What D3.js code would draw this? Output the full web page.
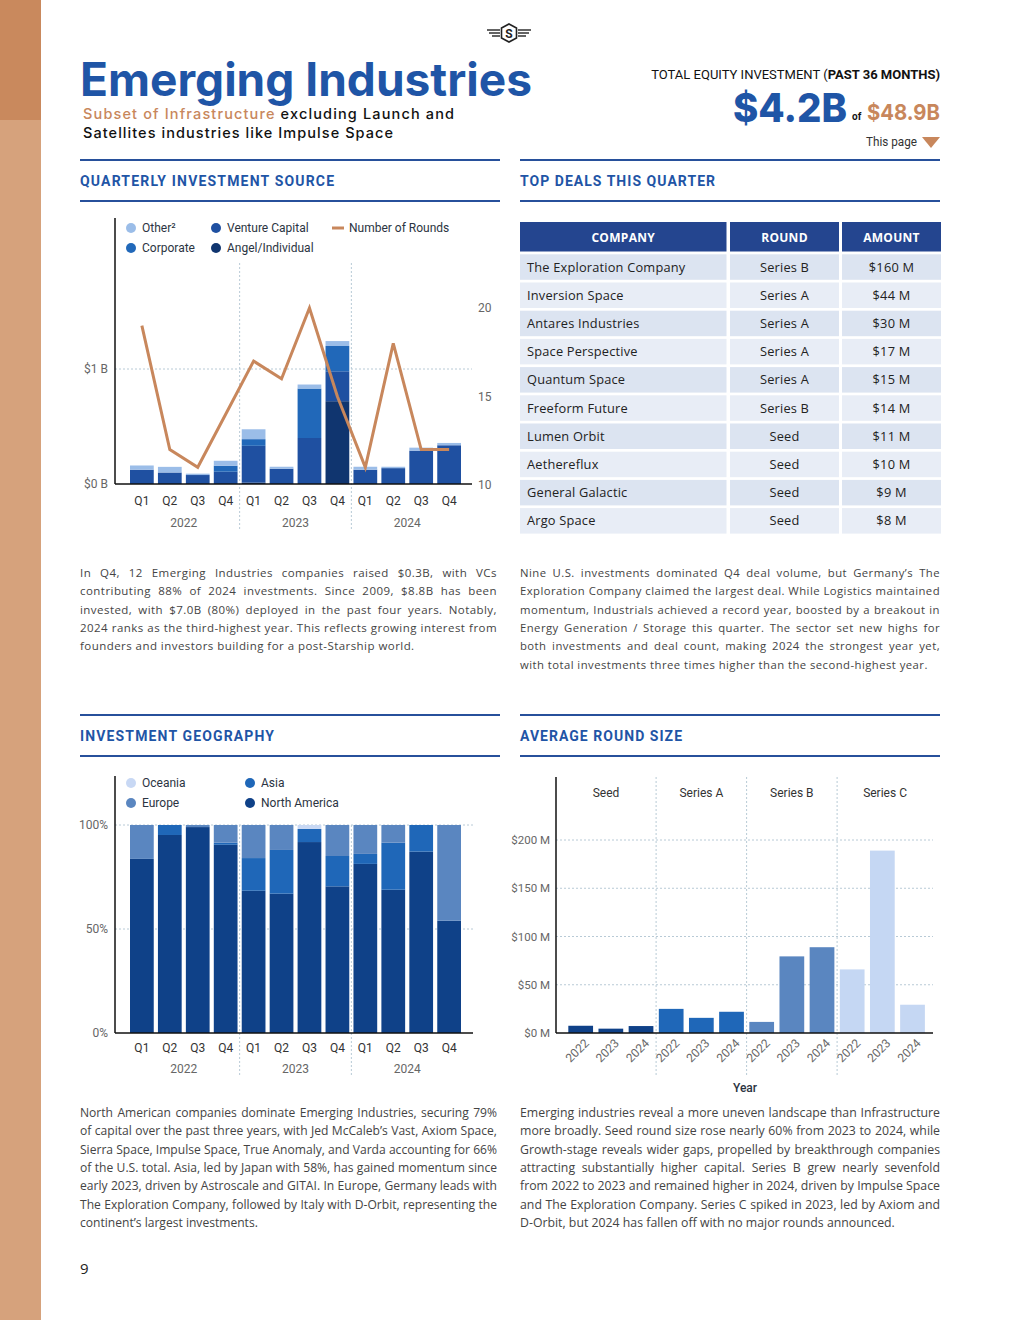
<!DOCTYPE html>
<html>
<head>
<meta charset="utf-8">
<script src="https://cdn.jsdelivr.net/npm/d3@7"></script>
<style>
body { margin: 0; background: #fff; }
svg { display: block; }
</style>
</head>
<body>
<div id="page"></div>
<script>
// ---- data ----
var quarters = ["Q1", "Q2", "Q3", "Q4", "Q1", "Q2", "Q3", "Q4", "Q1", "Q2", "Q3", "Q4"];
var years = ["2022", "2023", "2024"];

// quarterly investment source, $B
var angelInv   = [0, 0, 0, 0, 0.012, 0, 0, 0.72, 0, 0, 0, 0];
var ventureInv = [0.124, 0.10, 0.078, 0.107, 0.32, 0.133, 0.40, 0.26, 0.124, 0.138, 0.29, 0.337];
var corpInv    = [0, 0, 0, 0.052, 0.058, 0, 0.43, 0.22, 0, 0, 0, 0];
var otherInv   = [0.037, 0.049, 0.012, 0.043, 0.086, 0.017, 0.035, 0.043, 0.026, 0.012, 0.026, 0.02];
var roundCount = [19, 12, 11, 14, 17, 16, 20, 15, 11, 18, 12, 12];

// investment geography, % of quarter
var northAmerica = [83.7, 95.2, 99, 90.5, 68.4, 67, 91.8, 70.5, 81.3, 68.9, 87.2, 54];
var asiaShare    = [0, 4.8, 0, 1, 15.7, 21, 6.3, 14.6, 4.8, 22.6, 12.8, 0];
var europeShare  = [16.3, 0, 1, 8.5, 15.9, 12, 0, 14.9, 13.9, 8.5, 0, 46];
var oceaniaShare = [0, 0, 0, 0, 0, 0, 1.9, 0, 0, 0, 0, 0];

// average round size, $M
var roundTypes = ["Seed", "Series A", "Series B", "Series C"];
var roundYears = ["2022", "2023", "2024"];
var seedAvg    = [7.5, 4.5, 7.2];
var seriesAAvg = [25, 15.7, 22];
var seriesBAvg = [11.5, 79.4, 88.9];
var seriesCAvg = [65.9, 189, 29.3];

// top deals
var dealCompanies = ["The Exploration Company", "Inversion Space", "Antares Industries", "Space Perspective",
    "Quantum Space", "Freeform Future", "Lumen Orbit", "Aethereflux", "General Galactic", "Argo Space"];
var dealRounds = ["Series B", "Series A", "Series A", "Series A", "Series A", "Series B", "Seed", "Seed", "Seed", "Seed"];
var dealAmounts = ["$160 M", "$44 M", "$30 M", "$17 M", "$15 M", "$14 M", "$11 M", "$10 M", "$9 M", "$8 M"];

var para1 = [
    "In Q4, 12 Emerging Industries companies raised $0.3B, with VCs",
    "contributing 88% of 2024 investments. Since 2009, $8.8B has been",
    "invested, with $7.0B (80%) deployed in the past four years. Notably,",
    "2024 ranks as the third-highest year. This reflects growing interest from",
    "founders and investors building for a post-Starship world."];
var para2 = [
    "Nine U.S. investments dominated Q4 deal volume, but Germany’s The",
    "Exploration Company claimed the largest deal. While Logistics maintained",
    "momentum, Industrials achieved a record year, boosted by a breakout in",
    "Energy Generation / Storage this quarter. The sector set new highs for",
    "both investments and deal count, making 2024 the strongest year yet,",
    "with total investments three times higher than the second-highest year."];
var para3 = [
    "North American companies dominate Emerging Industries, securing 79%",
    "of capital over the past three years, with Jed McCaleb’s Vast, Axiom Space,",
    "Sierra Space, Impulse Space, True Anomaly, and Varda accounting for 66%",
    "of the U.S. total. Asia, led by Japan with 58%, has gained momentum since",
    "early 2023, driven by Astroscale and GITAI. In Europe, Germany leads with",
    "The Exploration Company, followed by Italy with D-Orbit, representing the",
    "continent’s largest investments."];
var para4 = [
    "Emerging industries reveal a more uneven landscape than Infrastructure",
    "more broadly. Seed round size rose nearly 60% from 2023 to 2024, while",
    "Growth-stage reveals wider gaps, propelled by breakthrough companies",
    "attracting substantially higher capital. Series B grew nearly sevenfold",
    "from 2022 to 2023 and remained higher in 2024, driven by Impulse Space",
    "and The Exploration Company. Series C spiked in 2023, led by Axiom and",
    "D-Orbit, but 2024 has fallen off with no major rounds announced."];

// ---- page ----
var blue = "#1f55a6";
var orange = "#c8875c";
var gridColor = "#b8cad6";
var chartFont = "Roboto, 'DejaVu Sans', sans-serif";
var bodyFont = "'Open Sans', 'DejaVu Sans', sans-serif";

var svg = d3.select("#page").append("svg")
    .attr("width", 1020)
    .attr("height", 1320);

svg.append("rect").attr("x", 0).attr("y", 0).attr("width", 41).attr("height", 1320).attr("fill", "#d6a27c");
svg.append("rect").attr("x", 0).attr("y", 0).attr("width", 41).attr("height", 120).attr("fill", "#c9895d");

// logo
var logo = svg.append("g").attr("transform", "translate(509,33)").attr("stroke", "#222").attr("fill", "none");
logo.append("path").attr("d", "M0,-9 L7.5,-5 L7.5,5 L0,9 L-7.5,5 L-7.5,-5 Z").attr("stroke-width", 1.6);
logo.append("text").attr("y", 4.5).attr("text-anchor", "middle").attr("stroke", "none").attr("fill", "#222")
    .attr("font-family", chartFont).attr("font-weight", 700).attr("font-size", 12).text("S");
[[-3, 13], [0, 11], [3, 8]].forEach(function(w) {
    logo.append("line").attr("x1", -9).attr("x2", -9 - w[1]).attr("y1", w[0]).attr("y2", w[0]).attr("stroke-width", 1.4);
    logo.append("line").attr("x1", 9).attr("x2", 9 + w[1]).attr("y1", w[0]).attr("y2", w[0]).attr("stroke-width", 1.4);
});

// title block
svg.append("text")
    .attr("x", 80).attr("y", 96)
    .attr("font-family", "Inter, Lato, sans-serif").attr("font-weight", 700).attr("font-size", 46)
    .attr("fill", blue)
    .attr("textLength", 452).attr("lengthAdjust", "spacingAndGlyphs")
    .text("Emerging Industries");

var sub1 = svg.append("text")
    .attr("x", 83).attr("y", 119)
    .attr("font-family", "Inter, Lato, sans-serif").attr("font-weight", 500).attr("font-size", 14.5)
    .attr("textLength", 371).attr("lengthAdjust", "spacing");
sub1.append("tspan").attr("fill", orange).text("Subset of Infrastructure ");
sub1.append("tspan").attr("fill", "#111").text("excluding Launch and");
svg.append("text")
    .attr("x", 83).attr("y", 138)
    .attr("font-family", "Inter, Lato, sans-serif").attr("font-weight", 500).attr("font-size", 14.5)
    .attr("fill", "#111")
    .attr("textLength", 310).attr("lengthAdjust", "spacing")
    .text("Satellites industries like Impulse Space");

// kpi heading: one text, squeezed horizontally to the width on the page
var kpiG = svg.append("g");
var kpi = kpiG.append("text")
    .attr("x", 0).attr("y", 0).attr("text-anchor", "end")
    .attr("font-family", chartFont).attr("font-size", 13.5).attr("fill", "#111");
kpi.append("tspan").text("TOTAL EQUITY INVESTMENT (");
kpi.append("tspan").attr("font-weight", 700).text("PAST 36 MONTHS)");
var kpiScale = 289 / kpi.node().getComputedTextLength();
kpiG.attr("transform", "translate(940,79) scale(" + kpiScale + ",1)");

svg.append("text")
    .attr("x", 733).attr("y", 122)
    .attr("font-family", "Inter, Lato, sans-serif").attr("font-weight", 800).attr("font-size", 40)
    .attr("fill", blue)
    .attr("textLength", 114).attr("lengthAdjust", "spacingAndGlyphs")
    .text("$4.2B");
svg.append("text")
    .attr("x", 852).attr("y", 120)
    .attr("font-family", chartFont).attr("font-weight", 700).attr("font-size", 10).attr("fill", "#111")
    .text("of");
svg.append("text")
    .attr("x", 867).attr("y", 120)
    .attr("font-family", "Inter, Lato, sans-serif").attr("font-weight", 700).attr("font-size", 22)
    .attr("fill", orange)
    .attr("textLength", 73).attr("lengthAdjust", "spacingAndGlyphs")
    .text("$48.9B");
svg.append("text")
    .attr("x", 917).attr("y", 146).attr("text-anchor", "end")
    .attr("font-family", chartFont).attr("font-size", 13).attr("fill", "#333")
    .attr("textLength", 51).attr("lengthAdjust", "spacingAndGlyphs")
    .text("This page");
svg.append("path").attr("d", "M922,137 L940,137 L931,148 Z").attr("fill", orange);

// section headers
function sectionHeader(x, y, w, label, labelW) {
    svg.append("line").attr("x1", x).attr("x2", x + w).attr("y1", y).attr("y2", y)
        .attr("stroke", "#27509b").attr("stroke-width", 2);
    svg.append("line").attr("x1", x).attr("x2", x + w).attr("y1", y + 41).attr("y2", y + 41)
        .attr("stroke", "#27509b").attr("stroke-width", 2);
    svg.append("text").attr("x", x).attr("y", y + 26)
        .attr("font-family", chartFont).attr("font-weight", 700).attr("font-size", 14)
        .attr("fill", blue)
        .attr("textLength", labelW).attr("lengthAdjust", "spacing")
        .text(label);
}
sectionHeader(80, 160, 420, "QUARTERLY INVESTMENT SOURCE", 254);
sectionHeader(520, 160, 420, "TOP DEALS THIS QUARTER", 195);
sectionHeader(80, 715, 420, "INVESTMENT GEOGRAPHY", 194);
sectionHeader(520, 715, 420, "AVERAGE ROUND SIZE", 162);

function dashed(sel) {
    return sel.attr("stroke", gridColor).attr("stroke-width", 1).attr("stroke-dasharray", "2,2");
}

function legend(g, items) {
    items.forEach(function(it) {
        if (it.line) {
            g.append("line").attr("x1", it.x).attr("x2", it.x + 12).attr("y1", it.y).attr("y2", it.y)
                .attr("stroke", it.color).attr("stroke-width", 3);
            g.append("text").attr("x", it.x + 17).attr("y", it.y + 4.3).text(it.label);
        } else {
            g.append("circle").attr("cx", it.x).attr("cy", it.y).attr("r", 5).attr("fill", it.color);
            g.append("text").attr("x", it.x + 11).attr("y", it.y + 4.3).text(it.label);
        }
    });
}

// ---- chart 1: quarterly investment source ----
var srcKeys = ["angel", "venture", "corporate", "other"];
var srcColors = { angel: "#10356f", venture: "#1f50a1", corporate: "#2168b9", other: "#9bbde8" };
var srcRows = quarters.map(function(q, i) {
    return { i: i, angel: angelInv[i], venture: ventureInv[i], corporate: corpInv[i], other: otherInv[i] };
});
var srcStack = d3.stack().keys(srcKeys)(srcRows);

var x1 = d3.scaleBand().domain(d3.range(12)).range([130, 461]).paddingInner(0.15);
var y1 = d3.scaleLinear().domain([0, 1]).range([484, 369]);
var yR = d3.scaleLinear().domain([10, 20]).range([485, 308]);

var c1 = svg.append("g").attr("font-family", chartFont);

dashed(c1.append("line").attr("x1", 115).attr("x2", 472).attr("y1", y1(1)).attr("y2", y1(1)));
[4, 8].forEach(function(i) {
    var sx = x1(i) - x1.step() * x1.paddingInner() / 2;
    dashed(c1.append("line").attr("x1", sx).attr("x2", sx).attr("y1", 263).attr("y2", 530));
});

c1.selectAll("g.layer")
    .data(srcStack)
    .enter()
    .append("g")
    .attr("class", "layer")
    .attr("fill", function(d) { return srcColors[d.key]; })
    .selectAll("rect")
    .data(function(d) { return d; })
    .enter()
    .append("rect")
    .attr("x", function(d) { return x1(d.data.i); })
    .attr("width", x1.bandwidth())
    .attr("y", function(d) { return y1(d[1]); })
    .attr("height", function(d) { return y1(d[0]) - y1(d[1]); });

var roundLine = d3.line()
    .x(function(d, i) { return x1(i) + x1.bandwidth() / 2; })
    .y(function(d) { return yR(d); });
c1.append("path")
    .attr("d", roundLine(roundCount))
    .attr("fill", "none")
    .attr("stroke", orange)
    .attr("stroke-width", 3);

c1.append("line").attr("x1", 115).attr("x2", 115).attr("y1", 218).attr("y2", 484).attr("stroke", "#111").attr("stroke-width", 1.5);
c1.append("line").attr("x1", 115).attr("x2", 472).attr("y1", 484).attr("y2", 484).attr("stroke", "#111").attr("stroke-width", 1.5);

var leftAxis1 = c1.append("g").attr("transform", "translate(115,0)")
    .call(d3.axisLeft(y1).tickValues([0, 1]).tickFormat(function(d) { return "$" + d + " B"; }).tickSize(0).tickPadding(7));
var rightAxis1 = c1.append("g").attr("transform", "translate(472,0)")
    .call(d3.axisRight(yR).tickValues([10, 15, 20]).tickSize(0).tickPadding(6));
var bottomAxis1 = c1.append("g").attr("transform", "translate(0,484)")
    .call(d3.axisBottom(x1).tickFormat(function(i) { return quarters[i]; }).tickSize(0).tickPadding(12.5));
[leftAxis1, rightAxis1, bottomAxis1].forEach(function(a) {
    a.select(".domain").remove();
    a.selectAll("text").attr("font-family", chartFont).attr("font-size", 12).attr("fill", "#666");
});
bottomAxis1.selectAll("text").attr("fill", "#333");

years.forEach(function(yr, k) {
    var cx = (x1(4 * k) + x1(4 * k + 3) + x1.bandwidth()) / 2;
    c1.append("text").attr("x", cx).attr("y", 527).attr("text-anchor", "middle")
        .attr("font-size", 12).attr("fill", "#666").text(yr);
});

var leg1 = c1.append("g").attr("font-size", 12).attr("fill", "#2b3442");
legend(leg1, [
    { x: 131, y: 228, color: srcColors.other, label: "Other²" },
    { x: 131, y: 248, color: srcColors.corporate, label: "Corporate" },
    { x: 216, y: 228, color: srcColors.venture, label: "Venture Capital" },
    { x: 216, y: 248, color: srcColors.angel, label: "Angel/Individual" },
    { x: 332, y: 228, color: orange, label: "Number of Rounds", line: true }
]);

// ---- table: top deals ----
var tbl = svg.append("g").attr("font-family", bodyFont);
var cols = [{ x: 520, w: 206.5 }, { x: 730, w: 109 }, { x: 842, w: 99 }];
var heads = ["COMPANY", "ROUND", "AMOUNT"];
cols.forEach(function(c, j) {
    tbl.append("rect").attr("x", c.x).attr("y", 222).attr("width", c.w).attr("height", 29.5).attr("fill", "#24458f");
    tbl.append("text").attr("x", c.x + c.w / 2).attr("y", 241.5).attr("text-anchor", "middle")
        .attr("font-weight", 700).attr("font-size", 12).attr("fill", "#fff").attr("letter-spacing", 0.3)
        .text(heads[j]);
});
dealCompanies.forEach(function(name, i) {
    var top = 254.3 + i * 28.2;
    var fill = i % 2 === 0 ? "#dce4f1" : "#e8edf6";
    cols.forEach(function(c) {
        tbl.append("rect").attr("x", c.x).attr("y", top).attr("width", c.w).attr("height", 25.5).attr("fill", fill);
    });
    var by = top + 17.2;
    tbl.append("text").attr("x", 527).attr("y", by).attr("font-size", 12.8).attr("fill", "#222")
        .attr("letter-spacing", 0.2).text(name);
    tbl.append("text").attr("x", cols[1].x + cols[1].w / 2).attr("y", by).attr("text-anchor", "middle")
        .attr("font-size", 12.8).attr("fill", "#222").attr("letter-spacing", 0.2).text(dealRounds[i]);
    tbl.append("text").attr("x", cols[2].x + cols[2].w / 2).attr("y", by).attr("text-anchor", "middle")
        .attr("font-size", 12.8).attr("fill", "#222").attr("letter-spacing", 0.2).text(dealAmounts[i]);
});

// ---- chart 2: investment geography ----
var geoKeys = ["northAmerica", "asia", "europe", "oceania"];
var geoColors = { northAmerica: "#0f4188", asia: "#1f67b8", europe: "#5a86c0", oceania: "#c8d8f4" };
var geoRows = quarters.map(function(q, i) {
    return { i: i, northAmerica: northAmerica[i], asia: asiaShare[i], europe: europeShare[i], oceania: oceaniaShare[i] };
});
var geoStack = d3.stack().keys(geoKeys)(geoRows);

var y2 = d3.scaleLinear().domain([0, 100]).range([1033, 825]);
var c2 = svg.append("g").attr("font-family", chartFont);

[50, 100].forEach(function(v) {
    dashed(c2.append("line").attr("x1", 115).attr("x2", 473).attr("y1", y2(v)).attr("y2", y2(v)));
});
[4, 8].forEach(function(i) {
    var sx = x1(i) - x1.step() * x1.paddingInner() / 2;
    dashed(c2.append("line").attr("x1", sx).attr("x2", sx).attr("y1", 825).attr("y2", 1076));
});

c2.selectAll("g.layer")
    .data(geoStack)
    .enter()
    .append("g")
    .attr("class", "layer")
    .attr("fill", function(d) { return geoColors[d.key]; })
    .selectAll("rect")
    .data(function(d) { return d; })
    .enter()
    .append("rect")
    .attr("x", function(d) { return x1(d.data.i); })
    .attr("width", x1.bandwidth())
    .attr("y", function(d) { return y2(d[1]); })
    .attr("height", function(d) { return y2(d[0]) - y2(d[1]); });

c2.append("line").attr("x1", 115).attr("x2", 115).attr("y1", 776).attr("y2", 1033).attr("stroke", "#111").attr("stroke-width", 1.5);
c2.append("line").attr("x1", 115).attr("x2", 473).attr("y1", 1033).attr("y2", 1033).attr("stroke", "#111").attr("stroke-width", 1.5);

var leftAxis2 = c2.append("g").attr("transform", "translate(115,0)")
    .call(d3.axisLeft(y2).tickValues([0, 50, 100]).tickFormat(function(d) { return d + "%"; }).tickSize(0).tickPadding(7));
var bottomAxis2 = c2.append("g").attr("transform", "translate(0,1033)")
    .call(d3.axisBottom(x1).tickFormat(function(i) { return quarters[i]; }).tickSize(0).tickPadding(10.5));
[leftAxis2, bottomAxis2].forEach(function(a) {
    a.select(".domain").remove();
    a.selectAll("text").attr("font-family", chartFont).attr("font-size", 12).attr("fill", "#666");
});
bottomAxis2.selectAll("text").attr("fill", "#333");

years.forEach(function(yr, k) {
    var cx = (x1(4 * k) + x1(4 * k + 3) + x1.bandwidth()) / 2;
    c2.append("text").attr("x", cx).attr("y", 1073).attr("text-anchor", "middle")
        .attr("font-size", 12).attr("fill", "#666").text(yr);
});

var leg2 = c2.append("g").attr("font-size", 12).attr("fill", "#2b3442");
legend(leg2, [
    { x: 131, y: 783, color: geoColors.oceania, label: "Oceania" },
    { x: 131, y: 803, color: geoColors.europe, label: "Europe" },
    { x: 250, y: 783, color: geoColors.asia, label: "Asia" },
    { x: 250, y: 803, color: geoColors.northAmerica, label: "North America" }
]);

// ---- chart 3: average round size ----
var avgSeries = [seedAvg, seriesAAvg, seriesBAvg, seriesCAvg];
var avgColors = ["#0f4188", "#1f67b8", "#5a86c0", "#c5d7f3"];
var avgRows = [];
roundTypes.forEach(function(t, ti) {
    roundYears.forEach(function(yr, yi) {
        avgRows.push({ i: ti * 3 + yi, type: t, year: yr, value: avgSeries[ti][yi], color: avgColors[ti] });
    });
});

var x3 = d3.scaleBand().domain(d3.range(12)).range([565.6, 927.6]).paddingInner(0.18).paddingOuter(0.09);
var y3 = d3.scaleLinear().domain([0, 200]).range([1033, 840]);
var c3 = svg.append("g").attr("font-family", chartFont);

[50, 100, 150, 200].forEach(function(v) {
    dashed(c3.append("line").attr("x1", 556).attr("x2", 933).attr("y1", y3(v)).attr("y2", y3(v)));
});
var panelEdges = [556];
[3, 6, 9].forEach(function(i) {
    var sx = x3(i) - x3.step() * x3.paddingInner() / 2;
    panelEdges.push(sx);
    dashed(c3.append("line").attr("x1", sx).attr("x2", sx).attr("y1", 777).attr("y2", 1077));
});
panelEdges.push(933);

c3.selectAll("rect.bar")
    .data(avgRows)
    .enter()
    .append("rect")
    .attr("class", "bar")
    .attr("x", function(d) { return x3(d.i); })
    .attr("width", x3.bandwidth())
    .attr("y", function(d) { return y3(d.value); })
    .attr("height", function(d) { return y3(0) - y3(d.value); })
    .attr("fill", function(d) { return d.color; });

c3.append("line").attr("x1", 556).attr("x2", 556).attr("y1", 777).attr("y2", 1033).attr("stroke", "#111").attr("stroke-width", 1.5);
c3.append("line").attr("x1", 556).attr("x2", 933).attr("y1", 1033).attr("y2", 1033).attr("stroke", "#111").attr("stroke-width", 1.5);

var leftAxis3 = c3.append("g").attr("transform", "translate(556,0)")
    .call(d3.axisLeft(y3).tickValues([0, 50, 100, 150, 200]).tickFormat(function(d) { return "$" + d + " M"; }).tickSize(0).tickPadding(6));
leftAxis3.select(".domain").remove();
leftAxis3.selectAll("text").attr("font-family", chartFont).attr("font-size", 11.5).attr("fill", "#666");

c3.selectAll("text.yr")
    .data(avgRows)
    .enter()
    .append("text")
    .attr("class", "yr")
    .attr("transform", function(d) { return "translate(" + (x3(d.i) + x3.bandwidth() / 2 + 9) + ",1044) rotate(-45)"; })
    .attr("text-anchor", "end")
    .attr("font-size", 12)
    .attr("fill", "#666")
    .text(function(d) { return d.year; });

roundTypes.forEach(function(t, k) {
    c3.append("text").attr("x", (panelEdges[k] + panelEdges[k + 1]) / 2).attr("y", 797)
        .attr("text-anchor", "middle").attr("font-size", 12).attr("fill", "#333").text(t);
});
c3.append("text").attr("x", 745).attr("y", 1092).attr("text-anchor", "middle")
    .attr("font-size", 12).attr("font-weight", 500).attr("fill", "#2b3442").text("Year");

// ---- paragraphs ----
function justify(lines, x, y0, width, lh, size, spacing, condensed) {
    var grp = svg.append("g")
        .attr("font-family", bodyFont)
        .attr("font-size", size)
        .attr("letter-spacing", spacing)
        .attr("fill", "#444");
    var texts = lines.map(function(line, i) {
        return grp.append("text").attr("x", 0).attr("y", y0 + i * lh).text(line);
    });
    var widest = d3.max(texts.slice(0, -1), function(t) { return t.node().getComputedTextLength(); });
    var sx = condensed ? width / widest : Math.min(1, width / widest);
    grp.attr("transform", "translate(" + x + ",0) scale(" + sx + ",1)");
    texts.forEach(function(t, i) {
        if (i === texts.length - 1) return;
        var gaps = lines[i].split(" ").length - 1;
        var extra = width / sx - t.node().getComputedTextLength();
        if (gaps) t.attr("word-spacing", extra / gaps);
    });
}
justify(para1, 80, 577, 417, 18.35, 11.5, 0.45, false);
justify(para2, 520, 577, 420, 18.35, 11.5, 0.45, false);
justify(para3, 80, 1117, 417, 18.35, 12.8, 0, true);
justify(para4, 520, 1117, 420, 18.35, 12.8, 0, true);

svg.append("text").attr("x", 80).attr("y", 1274)
    .attr("font-family", bodyFont).attr("font-size", 15).attr("fill", "#222").text("9");
</script>
</body>
</html>
